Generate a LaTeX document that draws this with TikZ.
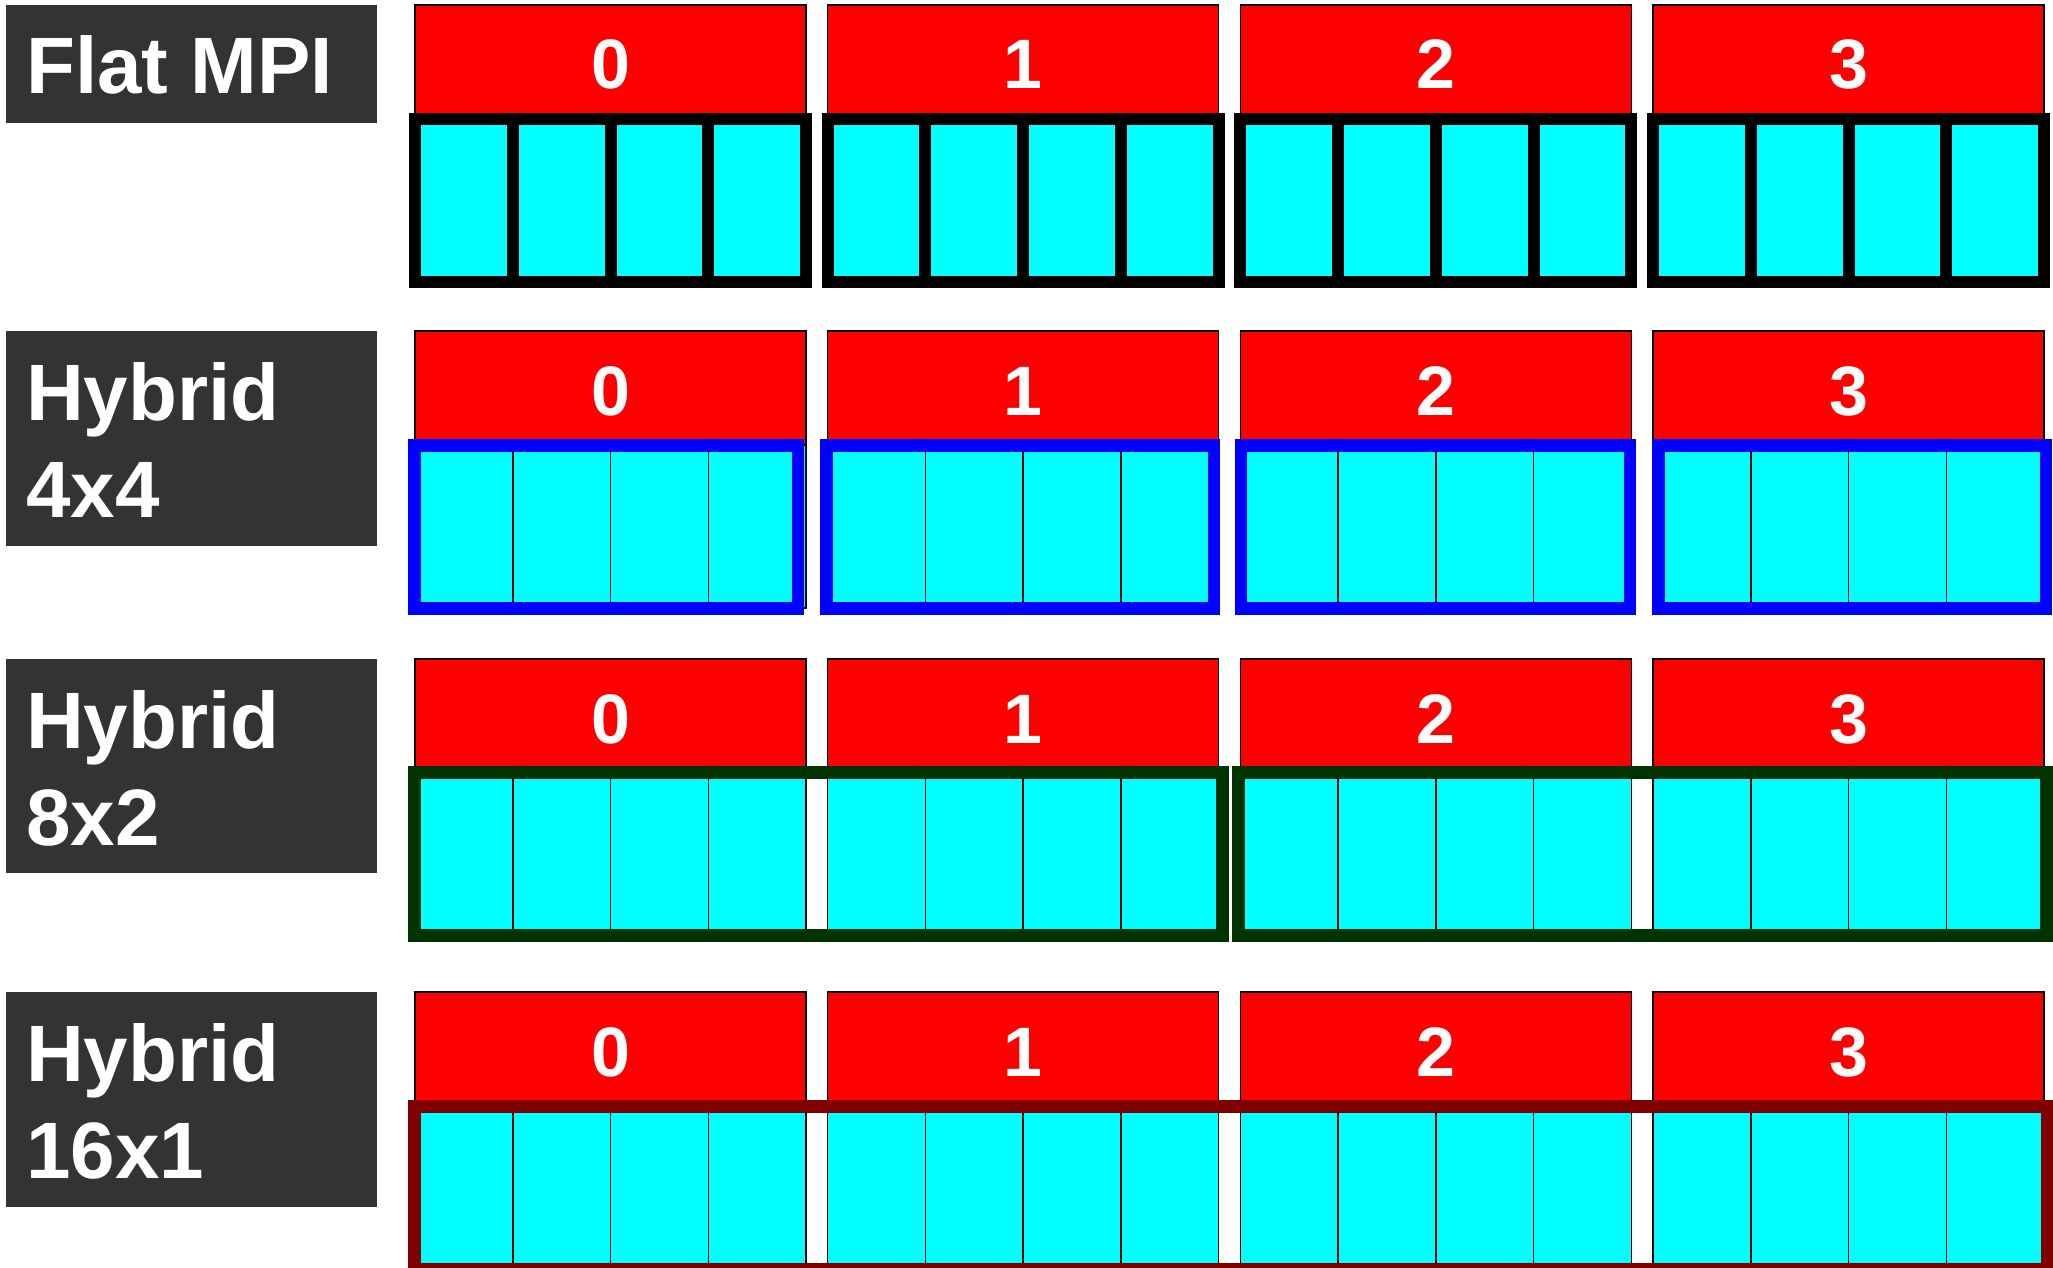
\documentclass[tikz,border=0pt]{standalone}
\usepackage{fontspec}
\setmainfont{Liberation Sans}
\definecolor{lblgray}{HTML}{333333}
\definecolor{cellcyan}{HTML}{00FFFF}
\definecolor{rankred}{HTML}{FF0000}
\definecolor{hybblue}{HTML}{0000FF}
\definecolor{hybgreen}{HTML}{003300}
\definecolor{hybmaroon}{HTML}{800000}
\begin{document}
\begin{tikzpicture}[x=1pt,y=-1pt,
  labelbox/.style={fill=lblgray},
  rankbox/.style={fill=rankred,draw=black,line width=1.5pt},
  cellbox/.style={fill=cellcyan,draw=black,line width=1.5pt},
  rankno/.style={text=white,font=\fontsize{70}{84}\selectfont\bfseries,anchor=base,inner sep=0pt},
  labeltext/.style={text=white,font=\fontsize{80}{97}\selectfont\bfseries,anchor=base west,inner sep=0pt},
  flatframe/.style={draw=black,line width=12pt},
  blueframe/.style={draw=hybblue,line width=12.7pt},
  greenframe/.style={draw=hybgreen,line width=13pt},
  maroonframe/.style={draw=hybmaroon,line width=13pt}]
\clip (0,0) rectangle (2053,1268);
\fill[white] (0,0) rectangle (2053,1268);

% base rows: red rank boxes with cyan cells
\foreach \T [count=\r] in {5,331,659,992}{
  \foreach \i [evaluate=\i as \x using 415+412.67*\i] in {0,1,2,3}{
    \draw[rankbox] (\x,\T) rectangle (\x+391,\T+114);
    \node[rankno] (rank\r\i) at (\x+195.5,\T+84) {\i};
    \foreach \j in {0,1,2,3}{
      \draw[cellbox] (\x+97.75*\j,\T+114) rectangle (\x+97.75*\j+97.75,\T+277);
    }
  }
}

% Row 1: Flat MPI, thick black frames and dividers
\foreach \i [evaluate=\i as \x using 415+412.67*\i] in {0,1,2,3}{
  \draw[flatframe] (\x,119) rectangle (\x+391,282);
  \foreach \j in {1,2,3}{
    \draw[flatframe] (\x+97.75*\j,119) -- (\x+97.75*\j,282);
  }
}

% Row 2: Hybrid 4x4, blue frames
\draw[blueframe] (414.5,445.5) rectangle (798,608.5);
\draw[blueframe] (826.7,445.5) rectangle (1214,608.5);
\draw[blueframe] (1241,445.5) rectangle (1630,608.5);
\draw[blueframe] (1658.5,445.5) rectangle (2046,608.5);

% Row 3: Hybrid 8x2, dark green frames
\draw[greenframe] (414.5,772.5) rectangle (1222.5,935.5);
\draw[greenframe] (1238.5,772.5) rectangle (2046,935.5);

% Row 4: Hybrid 16x1, maroon frame
\draw[maroonframe] (414.5,1106.5) rectangle (2047,1269.5);

% label boxes
\fill[labelbox] (6,5) rectangle (377,123);
\node[labeltext] (lflat) at (26,94) {Flat MPI};

\fill[labelbox] (6,331) rectangle (377,546);
\node[labeltext] (lh1a) at (26,420) {Hybrid};
\node[labeltext] (lh1b) at (26,517) {4x4};

\fill[labelbox] (6,659) rectangle (377,873);
\node[labeltext] (lh2a) at (26,748) {Hybrid};
\node[labeltext] (lh2b) at (26,845) {8x2};

\fill[labelbox] (6,992) rectangle (377,1207);
\node[labeltext] (lh3a) at (26,1081) {Hybrid};
\node[labeltext] (lh3b) at (26,1178) {16x1};
\end{tikzpicture}
\end{document}
